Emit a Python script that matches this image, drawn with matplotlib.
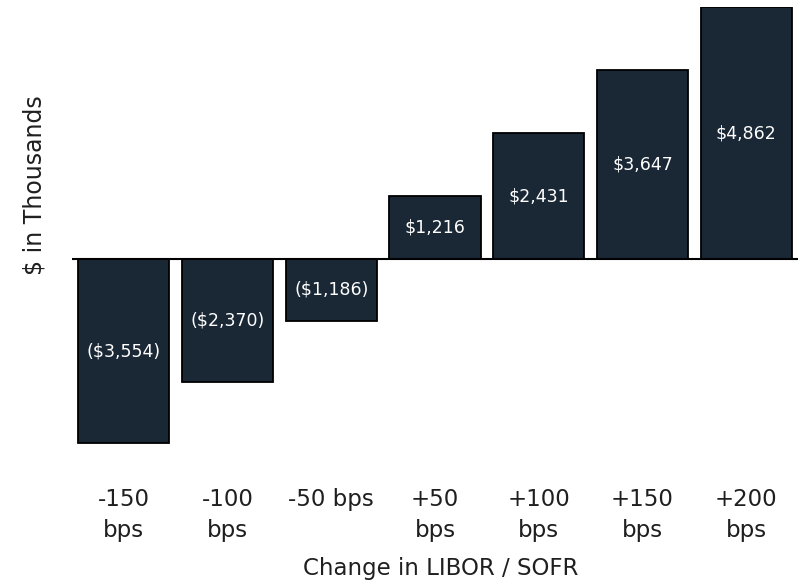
import matplotlib
matplotlib.use("Agg")
import matplotlib.pyplot as plt

# Data
categories = ["-150\nbps", "-100\nbps", "-50 bps", "+50\nbps", "+100\nbps", "+150\nbps", "+200\nbps"]
values = [-3554, -2370, -1186, 1216, 2431, 3647, 4862]
labels = ["($3,554)", "($2,370)", "($1,186)", "$1,216", "$2,431", "$3,647", "$4,862"]

bar_color = "#1a2836"
text_color = "#1f1f1f"

plt.rcParams["font.family"] = "DejaVu Sans"

fig = plt.figure(figsize=(7.98, 5.88), dpi=100)
ax = fig.add_axes([0.0902, 0.192, 0.9098, 0.796])

x = list(range(len(values)))
ax.bar(x, values, width=0.88, color=bar_color, edgecolor="black", linewidth=1.3, zorder=2)

# Value labels centred inside each bar
for xi, v, lab in zip(x, values, labels):
    ax.text(xi, v / 2, lab, ha="center", va="center", color="white", fontsize=12.5, zorder=3)

ax.axhline(0, color="black", linewidth=1.5, zorder=3)

ax.set_xlim(-0.5, 6.5)
ax.set_ylim(-4168, 4862)

ax.set_xticks(x)
ax.set_xticklabels(categories, fontsize=16.5, color=text_color, linespacing=1.45)
ax.tick_params(axis="x", length=0, pad=9)
ax.set_yticks([])

for s in ax.spines.values():
    s.set_visible(False)

# Axis titles
fig.text(35 / 798, 1 - 185 / 588, "$ in Thousands", rotation=90, ha="center", va="center",
         fontsize=17, color=text_color)
fig.text(441 / 798, 1 - 568 / 588, "Change in LIBOR / SOFR", ha="center", va="center",
         fontsize=16.5, color=text_color)

fig.savefig("out.png", dpi=100)
